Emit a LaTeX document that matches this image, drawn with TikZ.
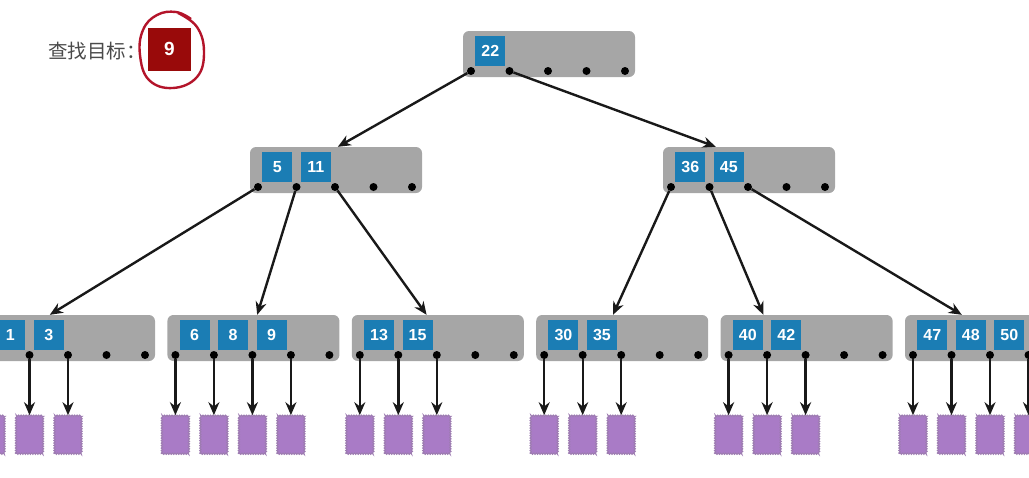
\documentclass[tikz,border=0pt]{standalone}
\usepackage{fontspec}
\setmainfont{Liberation Sans}
\newfontfamily\cjk{Noto Sans CJK SC}
\usetikzlibrary{arrows.meta,positioning,decorations.pathmorphing}

\definecolor{blockgray}{HTML}{A6A6A6}
\definecolor{keyblue}{HTML}{1B7DB4}
\definecolor{targetred}{HTML}{990A0A}
\definecolor{inkred}{HTML}{B3142A}
\definecolor{pagepurple}{HTML}{A97BC6}
\definecolor{labelgray}{HTML}{4A4A4A}

\tikzset{
  block/.style={fill=blockgray, rounded corners=6pt, minimum width=172pt, minimum height=46pt, inner sep=0pt},
  key/.style={fill=keyblue, text=white, minimum size=30pt, inner sep=0pt, font=\fontsize{16}{16}\selectfont\bfseries},
  ptr/.style={circle, fill=black, minimum size=8pt, inner sep=0pt},
  page/.style={fill=pagepurple, draw=pagepurple!70!gray, line width=1pt, minimum width=27pt, minimum height=38pt, inner sep=0pt,
    decorate, decoration={zigzag, segment length=2.5pt, amplitude=0.7pt}},
  link/.style={->, line width=2.4pt, black!90},
}

% one B-tree node: name, left, top, keys
\newcommand{\btreenode}[4]{%
  \node[block] (#1) at (#2+86,#3+23) {};
  \foreach \i in {0,...,4}
    \node[ptr] (#1-\i) at (#2+8+38.5*\i,#3+40) {};
  \foreach \k [count=\j] in {#4}
    \node[key] (#1-k\j) at (#2-11.25+38.5*\j,#3+20) {\k};
}

% data pages under pointers 0..#2 of node #1
\newcommand{\childpages}[2]{%
  \foreach \i in {0,...,#2} {
    \node[page, below=56pt of #1-\i] (#1-p\i) {};
    \draw[link] (#1-\i) -- (#1-p\i);
  }
}

\begin{document}
\begin{tikzpicture}[x=1pt,y=-1pt,>={Stealth[length=13pt,width=11pt]}]
  \useasboundingbox (0,0) rectangle (1029,477);
  \clip (0,0) rectangle (1029,477);

  % search target
  \node[fill=targetred, text=white, minimum size=43pt, inner sep=0pt, font=\fontsize{19}{19}\selectfont\bfseries] (target) at (169.5,49) {9};
  \node[text=labelgray, inner sep=0pt, font=\cjk\fontsize{19.5}{19.5}\selectfont, left=2pt of target, yshift=-2pt] (goal) {查找目标：};
  \draw[inkred, line width=2.4pt] plot[smooth, tension=0.7] coordinates
    {(178,13) (197,27) (204,52) (197,77) (173,88) (149,80) (140,55) (143,30) (157,15) (176,12) (191,19)};

  % tree
  \btreenode{root}{463}{31}{22}
  \btreenode{mid1}{250}{147}{5,11}
  \btreenode{mid2}{663}{147}{36,45}
  \btreenode{leaf1}{-17}{315}{1,3}
  \btreenode{leaf2}{167.4}{315}{6,8,9}
  \btreenode{leaf3}{351.8}{315}{13,15}
  \btreenode{leaf4}{536.2}{315}{30,35}
  \btreenode{leaf5}{720.6}{315}{40,42}
  \btreenode{leaf6}{905}{315}{47,48,50}

  \draw[link] (root-0) -- ([xshift=88pt]mid1.north west);
  \draw[link] (root-1) -- ([xshift=53pt]mid2.north west);
  \draw[link] (mid1-0) -- ([xshift=67pt]leaf1.north west);
  \draw[link] (mid1-1) -- ([xshift=90pt]leaf2.north west);
  \draw[link] (mid1-2) -- ([xshift=75pt]leaf3.north west);
  \draw[link] (mid2-0) -- ([xshift=77pt]leaf4.north west);
  \draw[link] (mid2-1) -- ([xshift=43pt]leaf5.north west);
  \draw[link] (mid2-2) -- ([xshift=57pt]leaf6.north west);

  \childpages{leaf1}{2}
  \childpages{leaf2}{3}
  \childpages{leaf3}{2}
  \childpages{leaf4}{2}
  \childpages{leaf5}{2}
  \childpages{leaf6}{3}
\end{tikzpicture}
\end{document}
